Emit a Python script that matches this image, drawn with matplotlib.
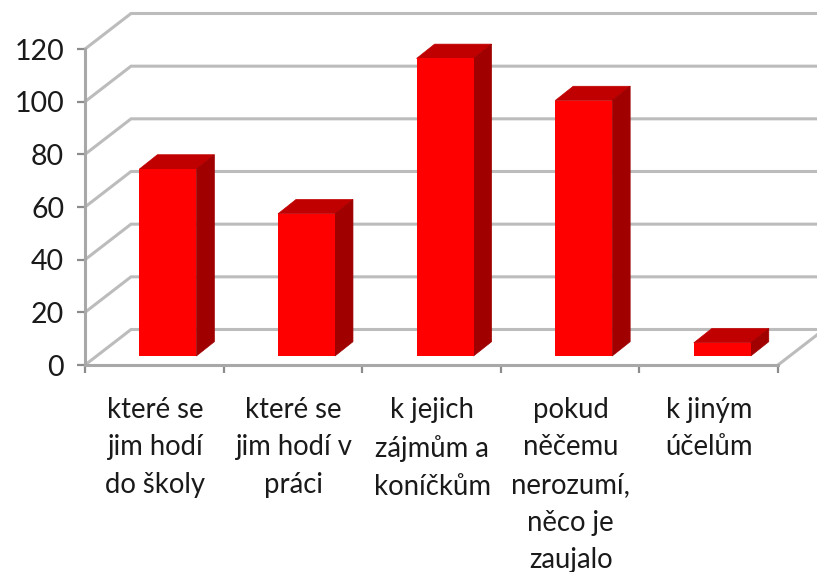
import matplotlib
matplotlib.use("Agg")
import matplotlib.pyplot as plt

categories = ["které se\njim hodí\ndo školy", "které se\njim hodí v\npráci", "k jejich\nzájmům a\nkoníčkům",
              "pokud\nněčemu\nnerozumí,\nněco je\nzaujalo", "k jiným\núčelům"]
values = [71, 54, 113, 97, 5]
y_ticks = [0, 20, 40, 60, 80, 100, 120]

W, H = 817, 572
fig = plt.figure(figsize=(W / 100, H / 100), dpi=100)
ax = fig.add_axes([85 / W, 1 - 365 / H, 693 / W, 316 / H])
ax.set_xlim(0, 5)
ax.set_ylim(0, 120)
plt.rcParams['font.family'] = ['Lato', 'DejaVu Sans']

# oblique depth of the plot box in axis units
DX, DY = 46 / 138.6, 35.5 / 2.633
GRID = "#bcbcbc"
AXIS = "#a8a8a8"
n = len(categories)

for v in y_ticks:
    ax.plot([0, DX, n + DX], [v, v + DY, v + DY], color=GRID, lw=2.2, clip_on=False,
            solid_joinstyle="miter", zorder=1)
ax.plot([n, n + DX], [0, DY], color=GRID, lw=2.2, clip_on=False, zorder=1)

# bars: front, top, side faces
bar_w, shift = 0.411, 0.098
base = 3.42
d_x, d_y = 18 / 138.6, 14.3 / 2.633
for i, v in enumerate(values):
    x0 = i + 0.5 + shift - bar_w / 2
    x1 = x0 + bar_w
    y0, y1 = base, base + v
    ax.fill([x0, x1, x1 + d_x, x0 + d_x], [y1, y1, y1 + d_y, y1 + d_y], color="#c00000", lw=0.5, clip_on=False, zorder=3)
    ax.fill([x1, x1 + d_x, x1 + d_x, x1], [y0, y0 + d_y, y1 + d_y, y1], color="#a00000", lw=0.5, clip_on=False, zorder=3)
    ax.bar(x0, v, width=bar_w, bottom=y0, align="edge", color="#ff0000", zorder=4)

for s in ("top", "right"):
    ax.spines[s].set_visible(False)
for s in ("left", "bottom"):
    ax.spines[s].set_color(AXIS)
    ax.spines[s].set_linewidth(2.2)
    ax.spines[s].set_zorder(2)

ax.set_yticks(y_ticks)
ax.set_xticks(range(n + 1))
ax.set_xticklabels([])
ax.set_xticks([i + 0.505 for i in range(n)], minor=True)
ax.set_xticklabels(categories, minor=True, fontsize=19.8, family=['Lato', 'DejaVu Sans'],
                   color="#1a1a1a", linespacing=1.55, va="top", ha="center")
ax.tick_params(axis="y", length=6, width=1.6, color="#8c8c8c", labelsize=20.5, pad=9, labelcolor="#1a1a1a")
ax.tick_params(axis="x", which="major", length=6, width=1.6, color="#8c8c8c")
ax.tick_params(axis="x", which="minor", length=0, pad=23)
for t in ax.get_yticklabels():
    t.set_family(['Lato', 'DejaVu Sans'])

fig.savefig("out.png", dpi=100)
